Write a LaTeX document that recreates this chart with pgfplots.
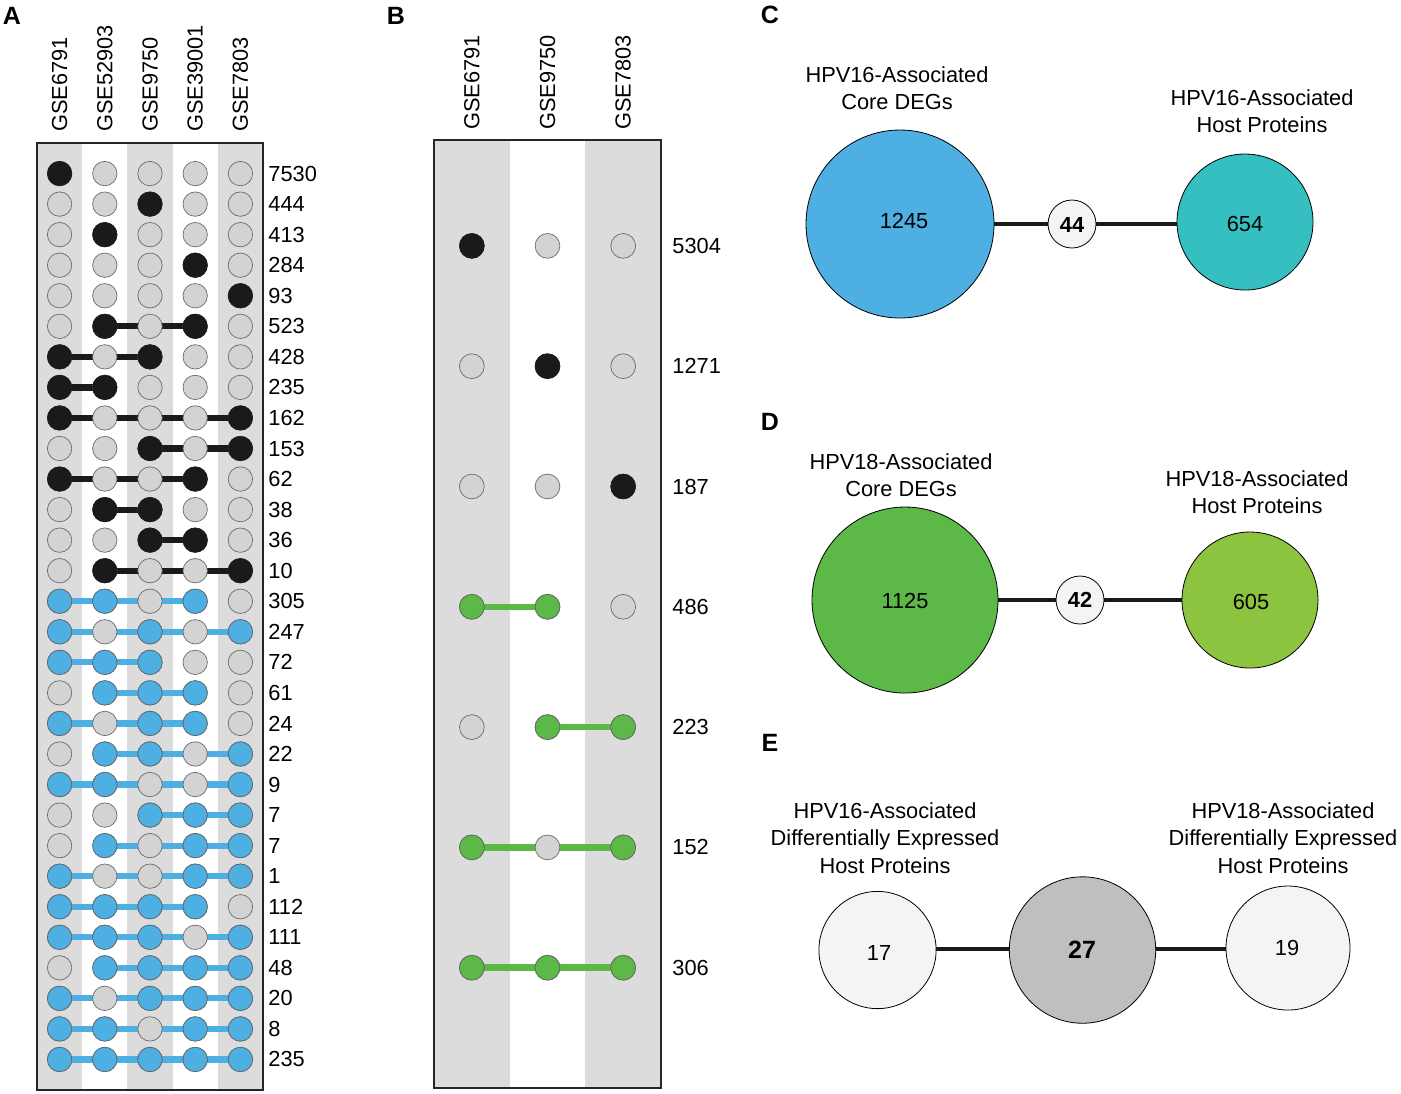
\documentclass[border=0pt]{standalone}
\usepackage{fontspec}
\setmainfont{Liberation Sans}
\usepackage{pgfplots}
\pgfplotsset{compat=1.18}
\definecolor{band}{HTML}{DCDCDC}
\definecolor{dotgrey}{HTML}{D3D3D3}
\definecolor{dotedge}{HTML}{6A6A6A}
\definecolor{dotblack}{HTML}{1A1A1A}
\definecolor{hpvblue}{HTML}{4DAFE2}
\definecolor{hpvgreen}{HTML}{5CB947}
\definecolor{hpvteal}{HTML}{36BFC1}
\definecolor{hpvlgreen}{HTML}{8CC43F}
\definecolor{nodewhite}{HTML}{F4F4F4}
\definecolor{nodegrey}{HTML}{BEBFC1}
\newcommand\lbl{\fontsize{10.9}{13.6}\selectfont}
\tikzset{
  greydot/.style={only marks, mark=*, mark size=6.1pt, mark options={fill=dotgrey, draw=dotedge, line width=0.35pt}},
  blackdot/.style={only marks, mark=*, mark size=6.1pt, mark options={fill=dotblack, draw=dotblack, line width=0.35pt}},
  bluedot/.style={only marks, mark=*, mark size=6.1pt, mark options={fill=hpvblue, draw=black!60, line width=0.35pt}},
  greendot/.style={only marks, mark=*, mark size=6.2pt, mark options={fill=hpvgreen, draw=black!60, line width=0.35pt}},
  bline/.style={no marks, line width=3.1pt, color=dotblack},
  uline/.style={no marks, line width=3.1pt, color=hpvblue},
  gline/.style={no marks, line width=3.3pt, color=hpvgreen},
  edge/.style={no marks, line width=2pt, color=black!90},
  bignode/.style={only marks, mark=*, mark options={line width=1.2pt, draw=black!90}}
}
\pgfplotsset{
  netaxis/.style={at={(370pt,0pt)}, anchor=north west, scale only axis,
  width=330.5pt, height=546.5pt,
  xmin=740, xmax=1401, ymin=0, ymax=1093, y dir=reverse,
  hide axis, clip=false}
}
\begin{document}
\begin{tikzpicture}
\path[use as bounding box] (0pt,0pt) rectangle (700.5pt,-546.5pt);
\node[font=\bfseries\fontsize{12.5}{15}\selectfont] at (6pt,-8pt) {A};
\node[font=\bfseries\fontsize{12.5}{15}\selectfont] at (198pt,-8pt) {B};
\node[font=\bfseries\fontsize{12.5}{15}\selectfont] at (385pt,-7.5pt) {C};
\node[font=\bfseries\fontsize{12.5}{15}\selectfont] at (385pt,-211pt) {D};
\node[font=\bfseries\fontsize{12.5}{15}\selectfont] at (385pt,-371.5pt) {E};

% ---------------- Panel A ----------------
\begin{axis}[at={(18.5pt,-71.5pt)}, anchor=north west, scale only axis,
  width=113pt, height=473.5pt,
  xmin=0.5, xmax=5.5, ymin=0, ymax=31, y dir=reverse, axis on top,
  axis line style={line width=1pt, color=black!85},
  xtick={1,2,3,4,5}, xticklabels={GSE6791,GSE52903,GSE9750,GSE39001,GSE7803},
  xticklabel pos=upper, xticklabel style={rotate=90, anchor=west, inner sep=0pt, font=\lbl},
  xticklabel shift=5.5pt,
  ytick={1,2,3,4,5,6,7,8,9,10,11,12,13,14,15,16,17,18,19,20,21,22,23,24,25,26,27,28,29,30},
  yticklabels={7530,444,413,284,93,523,428,235,162,153,62,38,36,10,305,247,72,61,24,22,9,7,7,1,112,111,48,20,8,235},
  yticklabel pos=upper, yticklabel style={anchor=west, inner sep=0pt, font=\lbl},
  yticklabel shift=2.5pt,
  major tick length=0pt, tick style={draw=none}]
\fill[band] (axis cs:0.5,0) rectangle (axis cs:1.5,31);
\fill[band] (axis cs:2.5,0) rectangle (axis cs:3.5,31);
\fill[band] (axis cs:4.5,0) rectangle (axis cs:5.5,31);
\addplot[greydot] coordinates {
(1,1)(2,1)(3,1)(4,1)(5,1) (1,2)(2,2)(3,2)(4,2)(5,2) (1,3)(2,3)(3,3)(4,3)(5,3)
(1,4)(2,4)(3,4)(4,4)(5,4) (1,5)(2,5)(3,5)(4,5)(5,5) (1,6)(2,6)(3,6)(4,6)(5,6)
(1,7)(2,7)(3,7)(4,7)(5,7) (1,8)(2,8)(3,8)(4,8)(5,8) (1,9)(2,9)(3,9)(4,9)(5,9)
(1,10)(2,10)(3,10)(4,10)(5,10) (1,11)(2,11)(3,11)(4,11)(5,11) (1,12)(2,12)(3,12)(4,12)(5,12)
(1,13)(2,13)(3,13)(4,13)(5,13) (1,14)(2,14)(3,14)(4,14)(5,14) (1,15)(2,15)(3,15)(4,15)(5,15)
(1,16)(2,16)(3,16)(4,16)(5,16) (1,17)(2,17)(3,17)(4,17)(5,17) (1,18)(2,18)(3,18)(4,18)(5,18)
(1,19)(2,19)(3,19)(4,19)(5,19) (1,20)(2,20)(3,20)(4,20)(5,20) (1,21)(2,21)(3,21)(4,21)(5,21)
(1,22)(2,22)(3,22)(4,22)(5,22) (1,23)(2,23)(3,23)(4,23)(5,23) (1,24)(2,24)(3,24)(4,24)(5,24)
(1,25)(2,25)(3,25)(4,25)(5,25) (1,26)(2,26)(3,26)(4,26)(5,26) (1,27)(2,27)(3,27)(4,27)(5,27)
(1,28)(2,28)(3,28)(4,28)(5,28) (1,29)(2,29)(3,29)(4,29)(5,29) (1,30)(2,30)(3,30)(4,30)(5,30)};
% black connecting lines
\addplot[bline] coordinates {(2,6) (4,6)};
\addplot[bline] coordinates {(1,7) (3,7)};
\addplot[bline] coordinates {(1,8) (2,8)};
\addplot[bline] coordinates {(1,9) (5,9)};
\addplot[bline] coordinates {(3,10) (5,10)};
\addplot[bline] coordinates {(1,11) (4,11)};
\addplot[bline] coordinates {(2,12) (3,12)};
\addplot[bline] coordinates {(3,13) (4,13)};
\addplot[bline] coordinates {(2,14) (5,14)};
% blue connecting lines
\addplot[uline] coordinates {(1,15) (4,15)};
\addplot[uline] coordinates {(1,16) (5,16)};
\addplot[uline] coordinates {(1,17) (3,17)};
\addplot[uline] coordinates {(2,18) (4,18)};
\addplot[uline] coordinates {(1,19) (4,19)};
\addplot[uline] coordinates {(2,20) (5,20)};
\addplot[uline] coordinates {(1,21) (5,21)};
\addplot[uline] coordinates {(3,22) (5,22)};
\addplot[uline] coordinates {(2,23) (5,23)};
\addplot[uline] coordinates {(1,24) (5,24)};
\addplot[uline] coordinates {(1,25) (4,25)};
\addplot[uline] coordinates {(1,26) (5,26)};
\addplot[uline] coordinates {(2,27) (5,27)};
\addplot[uline] coordinates {(1,28) (5,28)};
\addplot[uline] coordinates {(1,29) (5,29)};
\addplot[uline] coordinates {(1,30) (5,30)};
\addplot[blackdot] coordinates {
(1,1) (3,2) (2,3) (4,4) (5,5) (2,6)(4,6) (1,7)(3,7) (1,8)(2,8) (1,9)(5,9)
(3,10)(5,10) (1,11)(4,11) (2,12)(3,12) (3,13)(4,13) (2,14)(5,14)};
\addplot[bluedot] coordinates {
(1,15)(2,15)(4,15) (1,16)(3,16)(5,16) (1,17)(2,17)(3,17) (2,18)(3,18)(4,18)
(1,19)(3,19)(4,19) (2,20)(3,20)(5,20) (1,21)(2,21)(5,21) (3,22)(4,22)(5,22)
(2,23)(4,23)(5,23) (1,24)(4,24)(5,24) (1,25)(2,25)(3,25)(4,25)
(1,26)(2,26)(3,26)(5,26) (2,27)(3,27)(4,27)(5,27) (1,28)(3,28)(4,28)(5,28)
(1,29)(2,29)(4,29)(5,29) (1,30)(2,30)(3,30)(4,30)(5,30)};
\end{axis}

% ---------------- Panel B ----------------
\begin{axis}[at={(217pt,-70pt)}, anchor=north west, scale only axis,
  width=113.5pt, height=474pt,
  xmin=0.5, xmax=3.5, ymin=0.12, ymax=8, y dir=reverse, axis on top,
  axis line style={line width=1pt, color=black!85},
  xtick={1,2,3}, xticklabels={GSE6791,GSE9750,GSE7803},
  xticklabel pos=upper, xticklabel style={rotate=90, anchor=west, inner sep=0pt, font=\lbl},
  xticklabel shift=5pt,
  ytick={1,2,3,4,5,6,7}, yticklabels={5304,1271,187,486,223,152,306},
  yticklabel pos=upper, yticklabel style={anchor=west, inner sep=0pt, font=\lbl},
  yticklabel shift=5.5pt,
  major tick length=0pt, tick style={draw=none}]
\fill[band] (axis cs:0.5,0.12) rectangle (axis cs:1.5,8);
\fill[band] (axis cs:2.5,0.12) rectangle (axis cs:3.5,8);
\addplot[greydot, mark size=6.2pt] coordinates {
(1,1)(2,1)(3,1) (1,2)(2,2)(3,2) (1,3)(2,3)(3,3) (1,4)(2,4)(3,4)
(1,5)(2,5)(3,5) (1,6)(2,6)(3,6) (1,7)(2,7)(3,7)};
\addplot[gline] coordinates {(1,4) (2,4)};
\addplot[gline] coordinates {(2,5) (3,5)};
\addplot[gline] coordinates {(1,6) (3,6)};
\addplot[gline] coordinates {(1,7) (3,7)};
\addplot[blackdot, mark size=6.2pt] coordinates {(1,1) (2,2) (3,3)};
\addplot[greendot] coordinates {
(1,4)(2,4) (2,5)(3,5) (1,6)(3,6) (1,7)(2,7)(3,7)};
\end{axis}

% ---------------- Panels C, D, E ----------------
\begin{axis}[netaxis]
% C
\addplot[edge] coordinates {(900,224) (1245,224)};
\addplot[bignode, mark size=47pt, mark options={fill=hpvblue}] coordinates {(900,224)};
\addplot[bignode, mark size=12pt, mark options={fill=nodewhite}] coordinates {(1072,224)};
\addplot[bignode, mark size=34pt, mark options={fill=hpvteal}] coordinates {(1245,222)};
% D
\addplot[edge] coordinates {(905,600) (1250,600)};
\addplot[bignode, mark size=46.5pt, mark options={fill=hpvgreen}] coordinates {(905,600)};
\addplot[bignode, mark size=12pt, mark options={fill=nodewhite}] coordinates {(1080,600)};
\addplot[bignode, mark size=34pt, mark options={fill=hpvlgreen}] coordinates {(1250,600)};
% E
\addplot[edge] coordinates {(877.5,949) (1288,949)};
\addplot[bignode, mark size=29.3pt, mark options={fill=nodewhite}] coordinates {(877.5,950)};
\addplot[bignode, mark size=36.6pt, mark options={fill=nodegrey}] coordinates {(1082.5,950)};
\addplot[bignode, mark size=31pt, mark options={fill=nodewhite}] coordinates {(1288,948)};
\end{axis}
% text layer over the network circles
\begin{axis}[netaxis]
\node[font=\lbl, align=center] at (axis cs:897,88) {HPV16-Associated\\Core DEGs};
\node[font=\lbl, align=center] at (axis cs:1262,111) {HPV16-Associated\\Host Proteins};
\node[font=\lbl, align=center] at (axis cs:901,475) {HPV18-Associated\\Core DEGs};
\node[font=\lbl, align=center] at (axis cs:1257,492) {HPV18-Associated\\Host Proteins};
\node[font=\lbl, align=center] at (axis cs:885,838) {HPV16-Associated\\Differentially Expressed\\Host Proteins};
\node[font=\lbl, align=center] at (axis cs:1283,838) {HPV18-Associated\\Differentially Expressed\\Host Proteins};
\node[font=\lbl] at (axis cs:904,221) {1245};
\node[font=\lbl\bfseries] at (axis cs:1072,225) {44};
\node[font=\lbl] at (axis cs:1245,224) {654};
\node[font=\lbl] at (axis cs:905,601) {1125};
\node[font=\lbl\bfseries] at (axis cs:1080,600) {42};
\node[font=\lbl] at (axis cs:1251,602) {605};
\node[font=\lbl] at (axis cs:879,953) {17};
\node[font=\bfseries\fontsize{12.5}{15}\selectfont] at (axis cs:1082,950) {27};
\node[font=\lbl] at (axis cs:1287,948) {19};
\end{axis}
\end{tikzpicture}
\end{document}
